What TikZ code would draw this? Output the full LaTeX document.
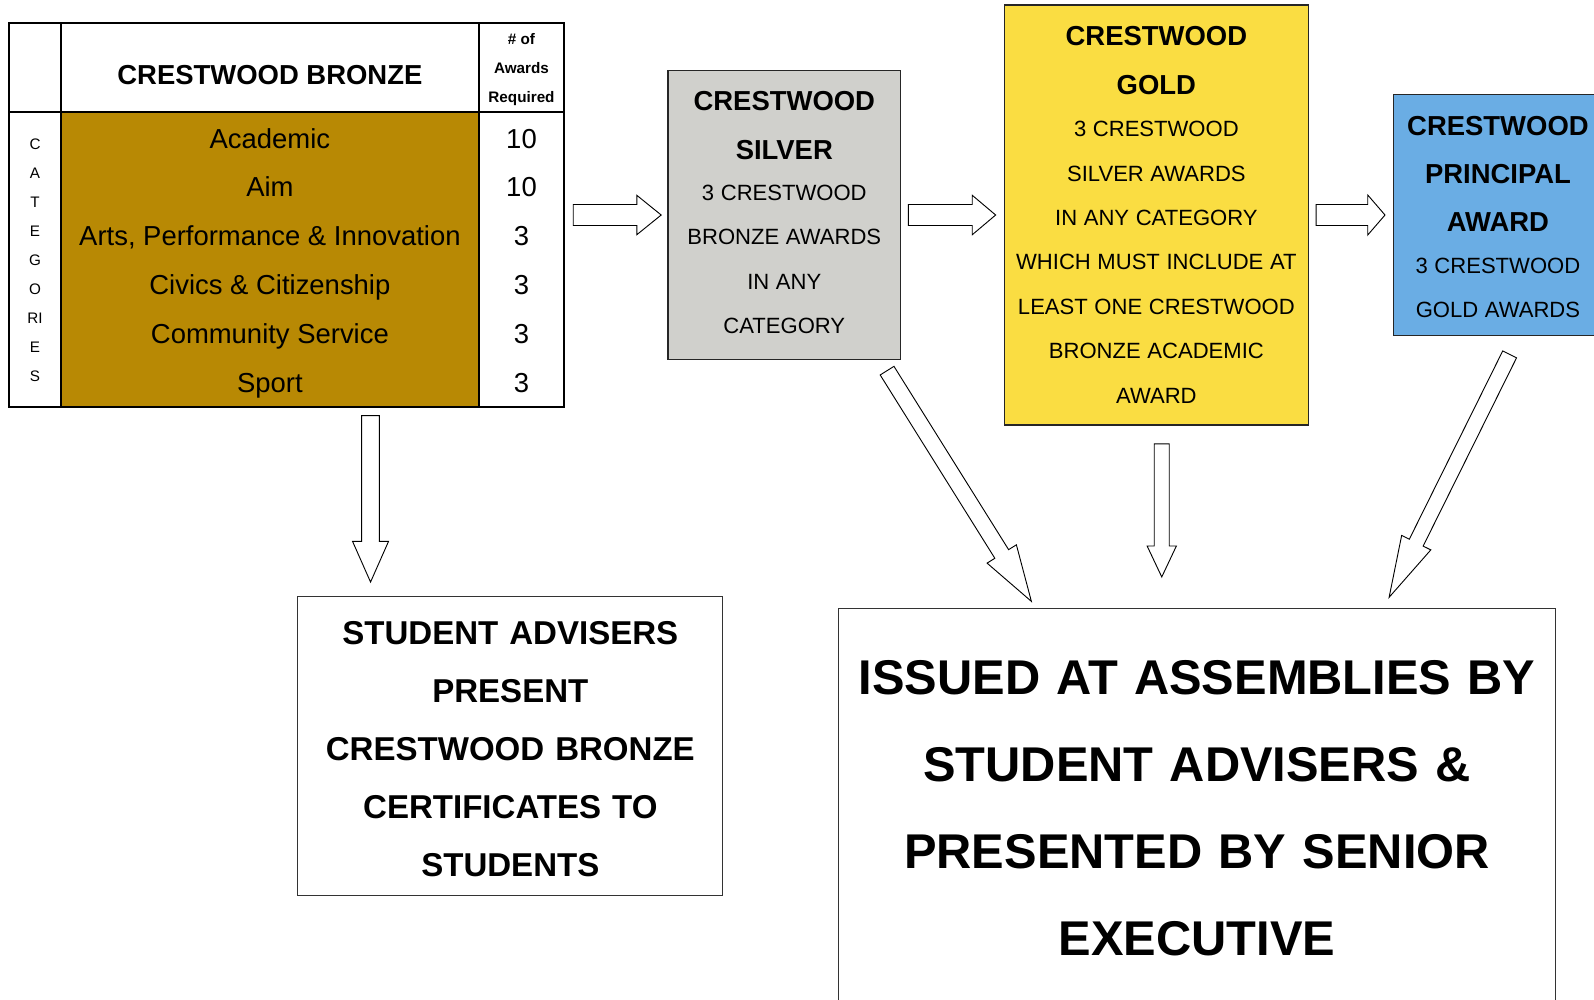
\documentclass[tikz,border=0pt]{standalone}
\usepackage{fontspec}
\setmainfont{Liberation Sans}
\usepackage{tikz}
\usetikzlibrary{calc}
\setlength{\parindent}{0pt}

\definecolor{bronzefill}{RGB}{184,137,4}
\definecolor{silverfill}{RGB}{208,208,204}
\definecolor{goldfill}{RGB}{250,221,66}
\definecolor{bluefill}{RGB}{106,173,228}

\newcommand{\boxtext}[2]{\fontsize{#1}{#2}\selectfont\spaceskip=0.3em\relax}
\newcommand{\boxend}[1]{\par\vspace{#1}\hrule height 0pt}
\newcommand{\blockarrow}[5]{%
\coordinate (ab) at ($(#2)!#5!(#1)$);
\draw[arrowline] ($(#1)!#3!90:(#2)$) -- ($(ab)!#3!-90:(#1)$) -- ($(ab)!#4!-90:(#1)$) -- (#2) -- ($(ab)!#4!90:(#1)$) -- ($(ab)!#3!90:(#1)$) -- ($(#1)!#3!-90:(#2)$) -- cycle;}

\begin{document}
\begin{tikzpicture}[x=1pt, y=-1pt,
  awardbox/.style={draw=black!85, line width=1.2pt, align=center, inner sep=0pt},
  plainbox/.style={draw=black!80, line width=0.9pt, align=center, inner sep=0pt},
  tblline/.style={line width=1.8pt},
  cell/.style={inner sep=0pt, text height=19.3pt, text depth=0pt, font=\fontsize{27}{32}\selectfont},
  catletter/.style={inner sep=0pt, text height=10.7pt, text depth=0pt, font=\fontsize{15}{18}\selectfont},
  arrowline/.style={draw=black, fill=white, line width=0.9pt, line join=miter}]
\useasboundingbox (0,0) rectangle (1568,983);
\fill[bronzefill] (60,110) rectangle (471,400);
\node[draw, tblline, minimum width=546, minimum height=377, inner sep=0pt] (bronze) at (282,211.5) {};
\draw[tblline] (60,23) -- (60,400);
\draw[tblline] (471,23) -- (471,400);
\draw[tblline] (9,110) -- (555,110);
\node[cell, font=\fontsize{27}{32}\selectfont\bfseries] (bronzetitle) at (265.5,73) {CRESTWOOD BRONZE};
\node[inner sep=0pt, align=center, font=\fontsize{15}{28.5}\selectfont\bfseries] (required) at (513,68) {\# of\\Awards\\Required};
\foreach \cat/\awd [count=\i] in {Academic/10, Aim/10, {Arts, Performance \& Innovation}/3, Civics \& Citizenship/3, Community Service/3, Sport/3} {
  \node[cell] (cat\i) at (265.5,88+48*\i) {\cat};
  \node[cell] (awd\i) at (513,88+48*\i) {\awd};
}
\foreach \letter [count=\j] in {C,A,T,E,G,O,RI,E,S}
  \node[catletter] (letter\j) at (34.5,113.5+28.5*\j) {\letter};

\node[awardbox, fill=silverfill, minimum width=229, minimum height=285, text width=215pt] (silver) at (771.5,211.5) {{\bfseries\boxtext{27}{48}CRESTWOOD\\SILVER\par}\vspace{-3.6pt}{\boxtext{21.7}{43.7}3 CRESTWOOD\\BRONZE AWARDS\\IN ANY\\CATEGORY\par}\boxend{4.6pt}};
\node[awardbox, fill=goldfill, minimum width=299, minimum height=413, text width=290pt] (gold) at (1137.5,211.5) {{\bfseries\boxtext{27}{47.5}CRESTWOOD\\GOLD\par}\vspace{-2pt}{\boxtext{21.7}{43.7}3 CRESTWOOD\\SILVER AWARDS\\IN ANY CATEGORY\\WHICH MUST INCLUDE AT\\LEAST ONE CRESTWOOD\\BRONZE ACADEMIC\\AWARD\par}};
\node[awardbox, fill=bluefill, minimum width=205, minimum height=237, text width=195pt] (blue) at (1473.5,211.5) {{\bfseries\boxtext{27}{47.5}CRESTWOOD\\PRINCIPAL\\AWARD\par}\vspace{-2.6pt}{\boxtext{21.7}{43.7}3 CRESTWOOD\\GOLD AWARDS\par}\boxend{-4pt}};
\node[plainbox, minimum width=418, minimum height=294, text width=400pt, font=\fontsize{32.5}{57}\selectfont\bfseries] (advisers) at (502,734) {STUDENT ADVISERS\\PRESENT\\CRESTWOOD BRONZE\\CERTIFICATES TO\\STUDENTS\boxend{-6pt}};
\node[plainbox, minimum width=705, minimum height=392, text width=690pt, font=\fontsize{48}{85.3}\selectfont\bfseries] (issued) at (1177.5,795) {ISSUED AT ASSEMBLIES BY\\STUDENT ADVISERS \&\\PRESENTED BY SENIOR\\EXECUTIVE};

\coordinate (a1s) at ([xshift=8pt]bronze.east);
\coordinate (a1e) at ([xshift=-6pt]silver.west);
\coordinate (a2s) at ([xshift=7pt]silver.east);
\coordinate (a2e) at ([xshift=-8pt]gold.west);
\coordinate (a3s) at ([xshift=7pt]gold.east);
\coordinate (a3e) at ([xshift=-8pt]blue.west);
\coordinate (d1s) at ([shift={(82.5,8)}]bronze.south);
\coordinate (d1e) at ([shift={(-137.5,-14)}]advisers.north);
\coordinate (d2s) at ([shift={(-14,10)}]silver.south east);
\coordinate (d2e) at ([shift={(190,-7)}]issued.north west);
\coordinate (d3s) at ([shift={(5.3,18)}]gold.south);
\coordinate (d3e) at ([shift={(-34.7,-31)}]issued.north);
\coordinate (d4s) at ([shift={(11.5,18)}]blue.south);
\coordinate (d4e) at ([shift={(-164,-11)}]issued.north east);
\blockarrow{a1s}{a1e}{10.3pt}{19.4pt}{24pt}
\blockarrow{a2s}{a2e}{10.3pt}{19.4pt}{23pt}
\blockarrow{a3s}{a3e}{10.3pt}{19.7pt}{17pt}
\blockarrow{d1s}{d1e}{8.7pt}{17.7pt}{40pt}
\blockarrow{d2s}{d2e}{8pt}{17pt}{55pt}
\blockarrow{d3s}{d3e}{7.4pt}{14.4pt}{30.5pt}
\blockarrow{d4s}{d4e}{7.6pt}{16pt}{60pt}
\end{tikzpicture}
\end{document}
